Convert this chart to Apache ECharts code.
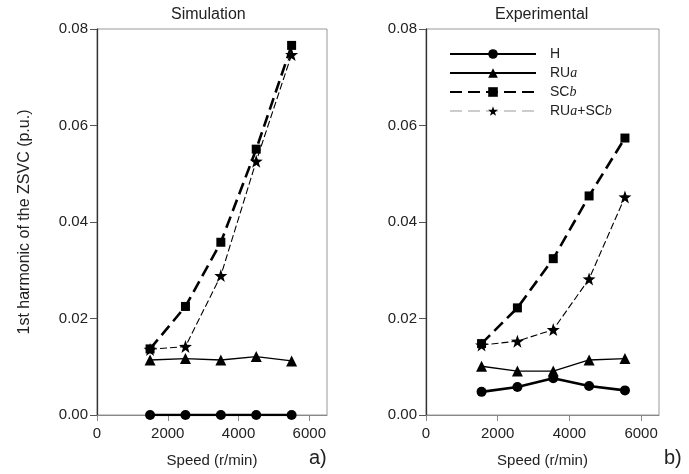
<!DOCTYPE html>
<html>
<head>
<meta charset="utf-8">
<script src="https://cdn.jsdelivr.net/npm/echarts@6/dist/echarts.min.js"></script>
<style>html,body{margin:0;padding:0;background:#fff;}#c{width:689px;height:474px;}</style>
</head>
<body>
<div id="c"></div>
<script>
// ---- data ----
const simSpeed = [1500, 2500, 3500, 4500, 5500];
const expSpeed = [1550, 2550, 3550, 4550, 5550];
const simH     = [0.0, 0.0, 0.0, 0.0, 0.0];
const simRUa   = [0.0114, 0.0117, 0.0114, 0.0121, 0.0112];
const simSCb   = [0.0137, 0.0225, 0.0358, 0.0551, 0.0766];
const simBoth  = [0.0136, 0.0142, 0.0289, 0.0526, 0.0747];
const expH     = [0.0048, 0.0058, 0.0076, 0.0060, 0.0051];
const expRUa   = [0.0101, 0.0091, 0.0091, 0.0114, 0.0117];
const expSCb   = [0.0148, 0.0222, 0.0324, 0.0454, 0.0574];
const expBoth  = [0.0145, 0.0153, 0.0177, 0.0282, 0.0452];
const xTicks   = [0, 2000, 4000, 6000];
const yTicks   = [0, 0.02, 0.04, 0.06, 0.08];
const seriesNames = ['H', 'RUa', 'SCb', 'RUa+SCb'];
const panelTitles = ['Simulation', 'Experimental'];
const panelTags = ['a)', 'b)'];
const yName = '1st harmonic of the ZSVC (p.u.)';
const xName = 'Speed (r/min)';

const FONT = '"Liberation Sans", Arial, sans-serif';
const TXT = '#222';
const STAR = 'path://M50,0L61.76,33.82L97.55,34.55L69.02,56.18L79.39,90.45L50,70L20.61,90.45L30.98,56.18L2.45,34.55L38.24,33.82Z';

const pair = (xs, ys) => xs.map((x, i) => [x, ys[i]]);

const styles = [
  {symbol: 'circle', symbolSize: 10, lineStyle: {width: 2.6, type: 'solid'}},
  {symbol: 'triangle', symbolSize: 11, lineStyle: {width: 1.3, type: 'solid'}},
  {symbol: 'rect', symbolSize: 9, lineStyle: {width: 2.6, type: [12, 6]}},
  {symbol: STAR, symbolSize: 13, lineStyle: {width: 1.1, type: [7, 3]}}
];

function mkSeries(name, idx, data, st) {
  return {
    name: name, type: 'line', xAxisIndex: idx, yAxisIndex: idx,
    data: data, symbol: st.symbol, symbolSize: st.symbolSize,
    itemStyle: {color: '#000'},
    lineStyle: Object.assign({color: '#000'}, st.lineStyle),
    animation: false, z: 3
  };
}

const simData = [simH, simRUa, simSCb, simBoth];
const expData = [expH, expRUa, expSCb, expBoth];
const series = [];
seriesNames.forEach((n, i) => {
  series.push(mkSeries(n, 0, pair(simSpeed, simData[i]), styles[i]));
  series.push(mkSeries(n, 1, pair(expSpeed, expData[i]), styles[i]));
});

function xAxis(idx) {
  return {
    type: 'value', gridIndex: idx, min: 0, max: 6500,
    name: xName, nameLocation: 'middle', nameGap: 38,
    nameTextStyle: {fontFamily: FONT, fontSize: 15, color: TXT},
    axisLine: {show: true, lineStyle: {color: '#888', width: 1}},
    axisTick: {show: true, length: 6, inside: false, customValues: xTicks, lineStyle: {color: '#888'}},
    axisLabel: {customValues: xTicks, fontFamily: FONT, fontSize: 15, color: TXT, margin: 11,
      formatter: v => String(v)},
    splitLine: {show: false}
  };
}
function yAxis(idx) {
  const a = {
    type: 'value', gridIndex: idx, min: 0, max: 0.08, interval: 0.02,
    axisLine: {show: true, lineStyle: {color: '#333', width: 1.3}},
    axisTick: {show: true, length: 7, inside: false, lineStyle: {color: '#555'}},
    axisLabel: {fontFamily: FONT, fontSize: 15, color: TXT, margin: 9,
      formatter: v => v.toFixed(2)},
    splitLine: {show: false}
  };
  if (idx === 0) {
    a.name = yName; a.nameLocation = 'middle'; a.nameGap = 64;
    a.nameTextStyle = {fontFamily: FONT, fontSize: 16, color: TXT};
  }
  return a;
}

const rich = {i: {fontStyle: 'italic', fontFamily: 'serif', fontSize: 14, color: TXT}};
const option = {
  backgroundColor: '#fff',
  animation: false,
  grid: [
    {left: 97, right: 362, top: 29, bottom: 59, show: true, borderColor: '#999', borderWidth: 1},
    {left: 426, right: 30, top: 29, bottom: 59, show: true, borderColor: '#999', borderWidth: 1}
  ],
  xAxis: [xAxis(0), xAxis(1)],
  yAxis: [yAxis(0), yAxis(1)],
  legend: {
    orient: 'vertical', left: 444, top: 42, itemWidth: 86, itemHeight: 12, itemGap: 5,
    data: [
      {name: 'H'}, {name: 'RUa'}, {name: 'SCb'},
      {name: 'RUa+SCb', lineStyle: {color: '#999', width: 1, type: [12, 6]}}
    ],
    textStyle: {fontFamily: FONT, fontSize: 14, color: TXT, padding: [0, 0, 0, 9], rich: rich},
    formatter: n => n.replace(/a/g, '{i|a}').replace(/b/g, '{i|b}')
  },
  graphic: [
    {type: 'text', left: 208 - 37, top: 7, style: {text: panelTitles[0], font: '16px ' + FONT, fill: TXT}},
    {type: 'text', left: 541 - 46, top: 7, style: {text: panelTitles[1], font: '16px ' + FONT, fill: TXT}},
    {type: 'text', left: 309, top: 448, style: {text: panelTags[0], font: '20px ' + FONT, fill: TXT}},
    {type: 'text', left: 664, top: 448, style: {text: panelTags[1], font: '20px ' + FONT, fill: TXT}}
  ],
  series: series
};
const chart = echarts.init(document.getElementById('c'), null, {renderer: 'canvas'});
chart.setOption(option);
</script>
</body>
</html>
